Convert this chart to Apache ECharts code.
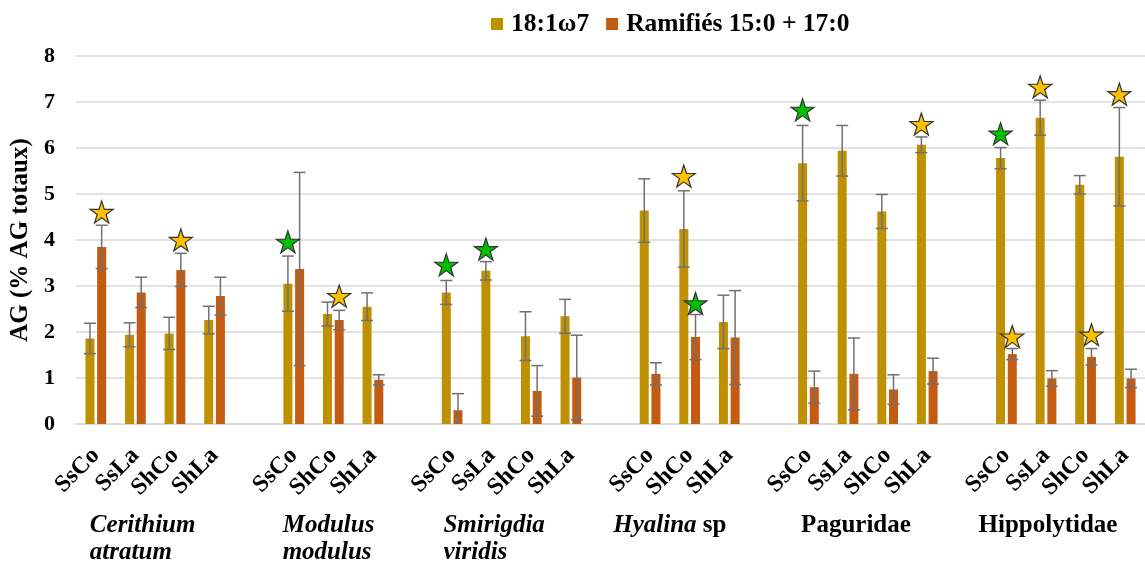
<!DOCTYPE html>
<html>
<head>
<meta charset="utf-8">
<script src="https://cdn.jsdelivr.net/npm/echarts@6/dist/echarts.min.js"></script>
<style>
html,body{margin:0;padding:0;background:#fff;}
#chart{width:1145px;height:563px;}
</style>
</head>
<body>
<div id="chart"></div>
<script>
// ---- data ----
const categories = ['SsCo','SsLa','ShCo','ShLa','',
  'SsCo','ShCo','ShLa','',
  'SsCo','SsLa','ShCo','ShLa','',
  'SsCo','ShCo','ShLa','',
  'SsCo','SsLa','ShCo','ShLa','',
  'SsCo','SsLa','ShCo','ShLa'];
const fa18 = [1.86,1.94,1.97,2.26,null, 3.05,2.39,2.55,null, 2.86,3.33,1.91,2.34,null, 4.64,4.24,2.22,null, 5.67,5.94,4.62,6.07,null, 5.78,6.66,5.20,5.81];
const fa18Err = [0.33,0.26,0.35,0.30,null, 0.60,0.26,0.30,null, 0.26,0.20,0.53,0.37,null, 0.69,0.83,0.58,null, 0.82,0.55,0.37,0.17,null, 0.23,0.38,0.20,1.07];
const ramif = [3.85,2.86,3.35,2.78,null, 3.37,2.26,0.96,null, 0.30,null,0.72,1.01,null, 1.09,1.89,1.88,null, 0.80,1.09,0.75,1.15,null, 1.52,0.99,1.46,0.99];
const ramifErr = [0.47,0.33,0.36,0.41,null, 2.10,0.21,0.11,null, 0.36,null,0.55,0.92,null, 0.24,0.49,1.02,null, 0.35,0.78,0.32,0.28,null, 0.12,0.17,0.18,0.20];
// significance stars: [category index, value]
const fa18StarsGreen = [[5,3.96],[9,3.46],[10,3.80],[18,6.83],[23,6.31]];
const fa18StarsYellow = [[15,5.39],[21,6.52],[24,7.33],[26,7.17]];
const ramifStarsGreen = [[15,2.62]];
const ramifStarsYellow = [[0,4.61],[2,4.00],[6,2.78],[23,1.90],[25,1.94]];
const seriesNames = ['18:1\u03c97','Ramifiés 15:0 + 17:0'];
const yTicks = [0,1,2,3,4,5,6,7,8];
const groupLabels = ['{i|Cerithium}\n{i|atratum}','{i|Modulus}\n{i|modulus}','{i|Smirigdia}\n{i|viridis}','{i|Hyalina} sp','Paguridae','Hippolytidae'];
const groupSlots = [-0.15, 4.72, 8.78, 14.5, 19.2, 24.05];
const groupAlign = ['left','left','left','center','center','center'];

// ---- style ----
const FONT = 'Liberation Serif';
const C1 = '#BF9000', C2 = '#C55A11';
const BAR_W = 9, BAR_GAP = 0.3;
const OFF = (BAR_W + BAR_W*BAR_GAP)/2;
const STAR = 'path://M50 0 L61.23 34.55 L97.55 34.55 L68.17 55.9 L79.39 90.45 L50 69.1 L20.61 90.45 L31.83 55.9 L2.45 34.55 L38.77 34.55 Z';

function errData(vals, errs){
  const out=[];
  vals.forEach((v,i)=>{ if(v!=null && errs[i]!=null) out.push([i,v,errs[i]]); });
  return out;
}
function errRender(offset){
  return function(params, api){
    const i = api.value(0), v = api.value(1), e = api.value(2);
    const hi = api.coord([i, v+e]);
    const lowVal = v - e;
    const lo = api.coord([i, Math.max(0, lowVal)]);
    const x = hi[0] + offset;
    const st = {stroke:'#707070', lineWidth:1.5};
    const ch = [
      {type:'line', shape:{x1:x,y1:hi[1],x2:x,y2:lo[1]}, style:st},
      {type:'line', shape:{x1:x-6,y1:hi[1],x2:x+6,y2:hi[1]}, style:st}
    ];
    if(lowVal >= 0) ch.push({type:'line', shape:{x1:x-6,y1:lo[1],x2:x+6,y2:lo[1]}, style:st});
    return {type:'group', children:ch};
  };
}
function starSeries(data, color, offset){
  return {
    type:'scatter', data:data, symbol:STAR, symbolSize:[23,22],
    symbolOffset:[offset,0], z:5, silent:true,
    itemStyle:{color:color, borderColor:'#333', borderWidth:1.2, opacity:1}
  };
}

const chart = echarts.init(document.getElementById('chart'), null, {renderer:'canvas'});
chart.setOption({
  animation:false,
  backgroundColor:'#fff',
  textStyle:{fontFamily:FONT},
  legend:{
    data:seriesNames, left:491, top:11, padding:0, itemWidth:12, itemHeight:12, itemGap:17,
    icon:'rect',
    textStyle:{fontFamily:FONT, fontWeight:'bold', fontSize:25.5, color:'#000', padding:[0,0,0,3]}
  },
  grid:{left:76, top:56, width:1080, height:368, containLabel:false},
  xAxis:{
    type:'category', data:categories,
    axisLine:{lineStyle:{color:'#d9d9d9', width:1.5}},
    axisTick:{show:false},
    axisLabel:{interval:0, rotate:45, margin:28, fontFamily:FONT, fontWeight:'bold', fontSize:24, color:'#000'}
  },
  yAxis:{
    type:'value', min:0, max:8, interval:1,
    name:'AG (% AG totaux)', nameLocation:'middle', nameRotate:90, nameGap:42,
    nameTextStyle:{fontFamily:FONT, fontWeight:'bold', fontSize:25, color:'#000'},
    axisLine:{show:false}, axisTick:{show:false},
    axisLabel:{margin:21, fontFamily:FONT, fontWeight:'bold', fontSize:22, color:'#000',
      formatter:(v)=> yTicks.indexOf(v)>=0 ? String(v) : ''},
    splitLine:{lineStyle:{color:'#d9d9d9', width:1.5}}
  },
  series:[
    {name:seriesNames[0], type:'bar', data:fa18, barWidth:BAR_W, barGap:(BAR_GAP*100)+'%', itemStyle:{color:C1}},
    {name:seriesNames[1], type:'bar', data:ramif, barWidth:BAR_W, itemStyle:{color:C2}},
    {type:'custom', data:errData(fa18, fa18Err), renderItem:errRender(-OFF), encode:{x:0,y:1}, z:4, silent:true},
    {type:'custom', data:errData(ramif, ramifErr), renderItem:errRender(OFF), encode:{x:0,y:1}, z:4, silent:true},
    starSeries(fa18StarsGreen, '#00C000', -OFF),
    starSeries(fa18StarsYellow, '#FFC000', -OFF),
    starSeries(ramifStarsGreen, '#00C000', OFF),
    starSeries(ramifStarsYellow, '#FFC000', OFF)
  ]
});

// group labels under the category groups
const p0 = chart.convertToPixel({xAxisIndex:0}, 0);
const p1 = chart.convertToPixel({xAxisIndex:0}, 1);
const step = p1 - p0;
const gfx = groupLabels.map((t,k)=>({
  type:'text',
  x: p0 + groupSlots[k]*step,
  y: 512,
  style:{
    text:t, align:groupAlign[k], verticalAlign:'top',
    font:'bold 25px "Liberation Serif"', fill:'#000', lineHeight:27,
    rich:{i:{fontStyle:'italic', fontWeight:'bold', fontSize:25, fontFamily:FONT, lineHeight:27}}
  }
}));
chart.setOption({graphic:gfx});
</script>
</body>
</html>
